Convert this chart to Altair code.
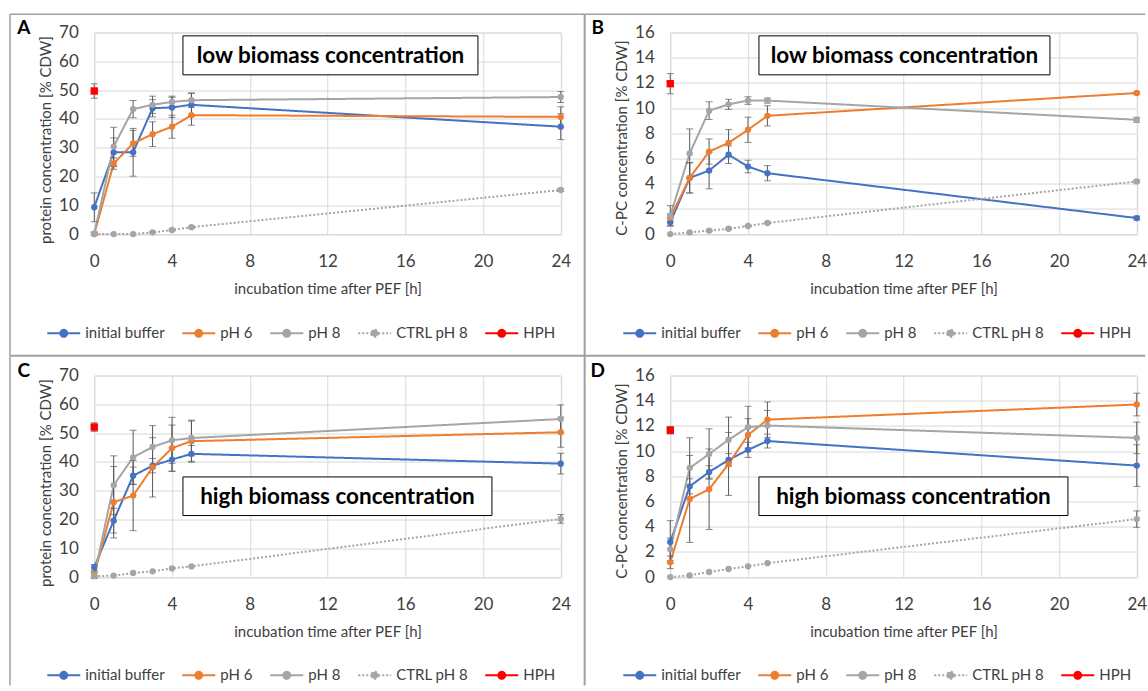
import altair as alt
import pandas as pd

# ---------------- data ----------------
times = [0, 1, 2, 3, 4, 5, 24]
series_names = ["initial buffer", "pH 6", "pH 8", "CTRL pH 8", "HPH"]
series_colors = ["#4472C4", "#ED7D31", "#A5A5A5", "#A5A5A5", "#FF0000"]
series_dash = [[1, 0], [1, 0], [1, 0], [2, 2], [1, 0]]

# Panel A: protein, low biomass
a_init = [9.3, 28.4, 28.4, 43.7, 44.0, 44.9, 37.3]
a_init_err = [5.0, 5.0, 8.3, 3.0, 3.5, 4.0, 4.5]
a_ph6 = [0.0, 24.5, 31.5, 34.7, 37.3, 41.3, 40.7]
a_ph6_err = [0.5, 2.0, 4.5, 4.3, 4.0, 3.5, 3.5]
a_ph8 = [0.2, 30.4, 43.4, 44.9, 45.9, 46.5, 47.6]
a_ph8_err = [0.5, 6.7, 3.0, 3.0, 2.0, 2.5, 1.9]
a_ctrl = [0.0, 0.0, 0.0, 0.6, 1.4, 2.4, 15.3]
a_ctrl_err = [0.0, 0.0, 0.0, 0.2, 0.3, 0.3, 0.5]
a_hph = 49.7
a_hph_err = 2.5

# Panel B: C-PC, low biomass
b_init = [0.93, 4.46, 5.04, 6.3, 5.36, 4.83, 1.27]
b_init_err = [0.3, 1.2, 1.45, 0.7, 0.5, 0.6, 0.15]
b_ph6 = [1.3, 4.46, 6.55, 7.24, 8.28, 9.39, 11.2]
b_ph6_err = [0.3, 1.2, 1.0, 1.05, 1.0, 0.8, 0.1]
b_ph8 = [1.46, 6.4, 9.8, 10.3, 10.6, 10.6, 9.07]
b_ph8_err = [0.8, 1.95, 0.7, 0.4, 0.3, 0.2, 0.2]
b_ctrl = [0.0, 0.13, 0.27, 0.42, 0.64, 0.88, 4.18]
b_ctrl_err = [0.0, 0.0, 0.05, 0.05, 0.05, 0.05, 0.1]
b_hph = 11.94
b_hph_err = 0.8

# Panel C: protein, high biomass
c_init = [3.4, 19.6, 35.2, 38.7, 40.8, 42.8, 39.4]
c_init_err = [1.0, 4.3, 3.0, 2.5, 4.1, 2.9, 3.6]
c_ph6 = [1.0, 26.0, 28.3, 38.1, 44.8, 47.2, 50.3]
c_ph6_err = [1.0, 12.4, 12.2, 10.3, 8.0, 7.0, 5.2]
c_ph8 = [0.5, 31.9, 41.6, 45.2, 47.5, 48.3, 54.9]
c_ph8_err = [1.0, 10.2, 9.4, 7.4, 8.0, 6.2, 4.9]
c_ctrl = [0.3, 0.5, 1.4, 2.0, 3.0, 3.7, 20.2]
c_ctrl_err = [0.0, 0.0, 0.0, 0.0, 0.0, 0.0, 1.5]
c_hph = 52.1
c_hph_err = 1.5

# Panel D: C-PC, high biomass
d_init = [2.78, 7.2, 8.34, 9.3, 10.1, 10.8, 8.85]
d_init_err = [1.7, 0.6, 0.5, 0.5, 0.6, 0.55, 1.65]
d_ph6 = [1.17, 6.2, 6.97, 8.98, 11.28, 12.5, 13.7]
d_ph6_err = [0.5, 3.45, 3.2, 2.5, 1.3, 1.4, 0.9]
d_ph8 = [2.2, 8.66, 9.77, 10.9, 11.9, 12.03, 11.05]
d_ph8_err = [0.9, 2.4, 2.0, 1.8, 1.66, 1.2, 1.25]
d_ctrl = [0.0, 0.13, 0.4, 0.64, 0.85, 1.1, 4.6]
d_ctrl_err = [0.0, 0.0, 0.0, 0.0, 0.0, 0.0, 0.65]
d_hph = 11.66
d_hph_err = 0.3

x_ticks = [0, 4, 8, 12, 16, 20, 24]
protein_ticks = [0, 10, 20, 30, 40, 50, 60, 70]
cpc_ticks = [0, 2, 4, 6, 8, 10, 12, 14, 16]

FONT = "Lato"
TXT = "#404040"
GRID = "#D9D9D9"
ERR = "#595959"
FRAME = "#A0A0A0"
W, H = 466.5, 201.5
TICK_FS = 17
TITLE_FS = 15
LEG_FS = 15


def make_df(series_vals, hph, hph_err):
    rows = []
    for name, (vals, errs) in series_vals.items():
        for t, v, e in zip(times, vals, errs):
            rows.append({"series": name, "time": t, "value": v, "err": e,
                         "lo": v - e, "hi": v + e})
    rows.append({"series": "HPH", "time": 0, "value": hph, "err": hph_err,
                 "lo": hph - hph_err, "hi": hph + hph_err})
    return pd.DataFrame(rows)


LEG_PATH = ("M-2,0L2,0M0.42,0A0.42,0.42,0,1,1,-0.42,0"
            "A0.42,0.42,0,1,1,0.42,0Z")


def panel(df, yticks, ytitle, ytitle_y, letter, letter_x, box_label, box,
          frames, leg_y):
    legend = alt.Legend(orient="none", legendX=-40, legendY=leg_y,
                        direction="horizontal", title=None,
                        symbolType=LEG_PATH, symbolSize=272.25,
                        symbolStrokeWidth=2, labelFont=FONT,
                        labelFontSize=LEG_FS, labelColor=TXT, labelOffset=12,
                        columnPadding=13, padding=0)
    xax = alt.Axis(values=x_ticks, title="incubation time after PEF [h]",
                   grid=True, gridColor=GRID, domain=False, ticks=False,
                   labelFont=FONT, labelFontSize=TICK_FS, labelColor=TXT,
                   labelPadding=19, labelFlush=False, titleFont=FONT,
                   titleFontSize=TITLE_FS, titleFontWeight="normal",
                   titleColor=TXT, titlePadding=12)
    yax = alt.Axis(values=yticks, title=ytitle, grid=True, gridColor=GRID,
                   domain=False, ticks=False, labelFont=FONT,
                   labelFontSize=TICK_FS, labelColor=TXT, labelPadding=16,
                   labelFlush=False, titleFont=FONT, titleFontSize=TITLE_FS,
                   titleFontWeight="normal", titleColor=TXT, titlePadding=5,
                   titleY=ytitle_y)
    xs = alt.Scale(domain=[0, 24], nice=False, zero=False)
    ys = alt.Scale(domain=[yticks[0], yticks[-1]], nice=False)
    color = alt.Color("series:N", scale=alt.Scale(domain=series_names,
                      range=series_colors), legend=legend)
    dash = alt.StrokeDash("series:N", scale=alt.Scale(domain=series_names,
                          range=series_dash), legend=legend)
    X = alt.X("time:Q", scale=xs, axis=xax)

    deco = pd.DataFrame({"d": [0]})
    layers = []
    for (x1, x2, y1, y2, sw) in frames:
        layers.append(alt.Chart(deco).mark_rule(color=FRAME, strokeWidth=sw)
                      .encode(x=alt.value(x1), x2=alt.value(x2),
                              y=alt.value(y1), y2=alt.value(y2)))

    main = df[df.series != "HPH"]
    hph = df[df.series == "HPH"]
    errs = df[df.err > 0]

    lines = alt.Chart(main).mark_line(strokeWidth=2).encode(
        x=X, y=alt.Y("value:Q", scale=ys, axis=yax), color=color,
        strokeDash=dash, detail="series:N")
    rules = alt.Chart(errs).mark_rule(color=ERR, strokeWidth=1).encode(
        x=X, y=alt.Y("lo:Q", scale=ys, axis=yax), y2="hi:Q")
    cap_lo = alt.Chart(errs).mark_tick(orient="horizontal", size=7,
                                       thickness=1, color=ERR).encode(
        x=X, y=alt.Y("lo:Q", scale=ys, axis=yax))
    cap_hi = alt.Chart(errs).mark_tick(orient="horizontal", size=7,
                                       thickness=1, color=ERR).encode(
        x=X, y=alt.Y("hi:Q", scale=ys, axis=yax))
    pts = alt.Chart(main).mark_point(filled=True, size=40, opacity=1).encode(
        x=X, y=alt.Y("value:Q", scale=ys, axis=yax), color=color)
    hp = alt.Chart(hph).mark_point(filled=True, shape="square", size=55,
                                   opacity=1).encode(
        x=X, y=alt.Y("value:Q", scale=ys, axis=yax), color=color)

    bx1, bx2, by1, by2 = box
    rect = alt.Chart(deco).mark_rect(fill="white", stroke="black",
                                     strokeWidth=1).encode(
        x=alt.value(bx1), x2=alt.value(bx2), y=alt.value(by1),
        y2=alt.value(by2))
    btxt = alt.Chart(deco).mark_text(text=box_label, font=FONT,
                                     fontWeight="bold", fontSize=22.5,
                                     color="black", align="center",
                                     baseline="middle").encode(
        x=alt.value((bx1 + bx2) / 2), y=alt.value((by1 + by2) / 2 + 0.5))
    let = alt.Chart(deco).mark_text(text=letter, font=FONT,
                                    fontWeight="bold", fontSize=19,
                                    color="black", align="center",
                                    baseline="middle").encode(
        x=alt.value(letter_x), y=alt.value(-4.5))

    layers += [lines, rules, cap_lo, cap_hi, pts, hp, rect, btxt, let]
    return alt.layer(*layers).properties(width=W, height=H)


df_a = make_df({"initial buffer": (a_init, a_init_err), "pH 6": (a_ph6, a_ph6_err),
                "pH 8": (a_ph8, a_ph8_err), "CTRL pH 8": (a_ctrl, a_ctrl_err)},
               a_hph, a_hph_err)
df_b = make_df({"initial buffer": (b_init, b_init_err), "pH 6": (b_ph6, b_ph6_err),
                "pH 8": (b_ph8, b_ph8_err), "CTRL pH 8": (b_ctrl, b_ctrl_err)},
               b_hph, b_hph_err)
df_c = make_df({"initial buffer": (c_init, c_init_err), "pH 6": (c_ph6, c_ph6_err),
                "pH 8": (c_ph8, c_ph8_err), "CTRL pH 8": (c_ctrl, c_ctrl_err)},
               c_hph, c_hph_err)
df_d = make_df({"initial buffer": (d_init, d_init_err), "pH 6": (d_ph6, d_ph6_err),
                "pH 8": (d_ph8, d_ph8_err), "CTRL pH 8": (d_ctrl, d_ctrl_err)},
               d_hph, d_hph_err)

frames_a = [(-84.3, -84.3, -18.4, 323.3, 1.5), (-84.3, 490.4, -18.4, -18.4, 1.5),
            (490.4, 490.4, -18.4, 323.3, 2), (-84.3, 490.4, 323.3, 323.3, 2)]
frames_b = [(-85.6, 475.0, -18.4, -18.4, 1.5), (-85.6, 475.0, 323.3, 323.3, 2)]
frames_c = [(-84.3, -84.3, -19.3, 310.0, 1.5), (490.4, 490.4, -19.3, 310.0, 2)]
frames_d = []

pa = panel(df_a, protein_ticks, "protein concentration [% CDW]", 107, "A", -70.5,
           "low biomass concentration", (88.7, 383.7, 3.3, 42.3), frames_a, 291)
pb = panel(df_b, cpc_ticks, "C-PC concentration [% CDW]", 105, "B", -72.5,
           "low biomass concentration", (88.7, 379.7, 3.3, 42.3), frames_b, 291)
pc = panel(df_c, protein_ticks, "protein concentration [% CDW]", 107, "C", -70.5,
           "high biomass concentration", (88.7, 397.7, 101.4, 140.0), frames_c, 290)
pd_ = panel(df_d, cpc_ticks, "C-PC concentration [% CDW]", 105, "D", -72.5,
            "high biomass concentration", (88.7, 397.7, 101.4, 140.0), frames_d, 290)

chart = alt.concat(pa, pb, pc, pd_, columns=2,
                   spacing={"row": 141, "column": 109},
                   bounds="flush").resolve_scale(
    color="independent", strokeDash="independent").resolve_legend(
    color="independent", strokeDash="independent").properties(
    padding={"left": 8.25, "top": 12.55, "right": 0, "bottom": 0}
).configure_view(stroke=None).configure(background="white")

chart.save("out.html", embed_options={"renderer": "svg", "actions": False})
